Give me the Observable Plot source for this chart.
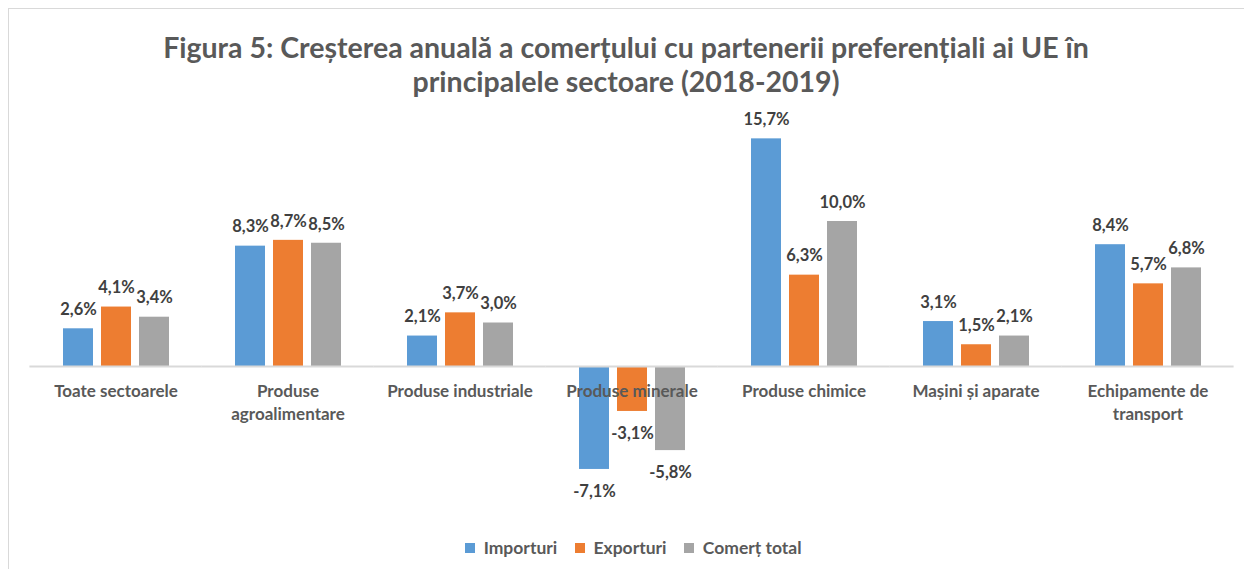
<!DOCTYPE html>
<html>
<head>
<meta charset="utf-8">
<script src="https://cdn.jsdelivr.net/npm/d3@7"></script>
<script src="https://cdn.jsdelivr.net/npm/@observablehq/plot@0.6"></script>
<style>
  html, body { margin: 0; padding: 0; background: #fff; }
  #wrap { position: relative; width: 1244px; height: 569px; overflow: hidden; font-family: Lato, "Open Sans", sans-serif; }
  #frame { position: absolute; left: 8px; top: 8px; width: 1250px; height: 570px; border-left: 1.5px solid #D9D9D9; border-top: 1.5px solid #D9D9D9; }
  #title { position: absolute; left: 8px; width: 1236px; top: 30px; text-align: center; font-weight: 700; font-size: 28.5px; line-height: 34px; color: #595959; }
  #chart { position: absolute; left: 0; top: 100px; }
  #legend { position: absolute; left: 20px; width: 1244px; top: 531px; display: flex; justify-content: center; }
</style>
</head>
<body>
<div id="wrap">
  <div id="frame"></div>
  <div id="title">Figura 5: Creșterea anuală a comerțului cu partenerii preferențiali ai UE în<br>principalele sectoare (2018-2019)</div>
  <div id="chart"></div>
  <div id="legend"></div>
</div>
<script>
const categories = ["Toate sectoarele", "Produse\nagroalimentare", "Produse industriale", "Produse minerale", "Produse chimice", "Mașini și aparate", "Echipamente de\ntransport"];
const series = ["Importuri", "Exporturi", "Comerț total"];
const importuri = [2.6, 8.3, 2.1, -7.1, 15.7, 3.1, 8.4];
const exporturi = [4.1, 8.7, 3.7, -3.1, 6.3, 1.5, 5.7];
const comertTotal = [3.4, 8.5, 3.0, -5.8, 10.0, 2.1, 6.8];
const colors = ["#5B9BD5", "#ED7D31", "#A5A5A5"];

const seriesValues = [importuri, exporturi, comertTotal];
const rows = [];
categories.forEach((c, i) => {
  series.forEach((s, j) => rows.push({category: c, series: s, value: seriesValues[j][i]}));
});
const fmt = v => v.toFixed(1).replace(".", ",") + "%";

const chart = Plot.plot({
  width: 1244,
  height: 425,
  marginLeft: 28,
  marginRight: 8,
  marginTop: 34,
  marginBottom: 43,
  fx: {domain: categories, paddingInner: 0.282, paddingOuter: 0.136, axis: null, label: null},
  x: {domain: series, padding: 0.22, axis: null},
  y: {domain: [-8, 16], axis: null},
  color: {domain: series, range: colors},
  style: {fontFamily: "Lato, 'Open Sans', sans-serif", background: "transparent"},
  marks: [
    Plot.barY(rows, {fx: "category", x: "series", y: "value", fill: "series"}),
    Plot.ruleY(categories, {fx: d => d, y: () => 0, stroke: "#D9D9D9", strokeWidth: 2, insetLeft: -24.6, insetRight: -24.6}),
    Plot.text(rows.filter(d => d.value >= 0), {fx: "category", x: "series", y: "value", text: d => fmt(d.value), dy: -19, fill: "#404040", fontWeight: 700, fontSize: 16.5}),
    Plot.text(rows.filter(d => d.value < 0), {fx: "category", x: "series", y: "value", text: d => fmt(d.value), dy: 22, fill: "#404040", fontWeight: 700, fontSize: 16.5}),
    Plot.text(categories, {fx: d => d, y: () => 0, text: d => d, dy: 14, lineAnchor: "top", lineHeight: 1.35, fill: "#595959", fontWeight: 700, fontSize: 17})
  ]
});
document.getElementById("chart").appendChild(chart);

const legend = Plot.legend({
  color: {domain: series, range: colors},
  legend: "swatches",
  swatchSize: 10,
  style: {fontFamily: "Lato, 'Open Sans', sans-serif", fontSize: "17.5px", fontWeight: 700, color: "#595959"}
});
document.getElementById("legend").appendChild(legend);
</script>
</body>
</html>
